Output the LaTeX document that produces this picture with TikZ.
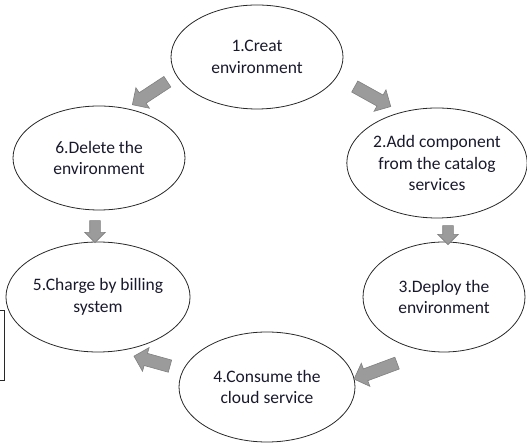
\documentclass[tikz,border=0pt]{standalone}
\usepackage{fontspec}
\setmainfont{Carlito}
\usepackage{xcolor}
\usetikzlibrary{shapes.geometric,shapes.arrows,calc}

\definecolor{textnavy}{RGB}{25,25,45}
\definecolor{arrowgray}{RGB}{155,155,155}
\definecolor{arrowedge}{RGB}{128,128,128}
\definecolor{lineblack}{RGB}{40,40,40}

\newcommand{\blockarrow}[3][]{%
  \path let \p1=($(#3)-(#2)$), \n1={atan2(\y1,\x1)}, \n2={veclen(\x1,\y1)} in
    node[flow arrow, #1, rotate=\n1, minimum height=\n2] at ($(#2)!0.5!(#3)$) {};}

\begin{document}
\begin{tikzpicture}[x=1bp, y=1bp,
                main node/.style={ellipse, draw=lineblack, line width=0.8bp, align=center,
                  inner sep=0pt, text=textnavy, font=\fontsize{17.5bp}{21.5bp}\selectfont},
                flow arrow/.style={single arrow, draw=arrowedge, fill=arrowgray, line width=0.6bp,
                  inner xsep=0pt, inner ysep=6bp, single arrow head extend=6bp},
                small arrow/.style={inner ysep=5bp, single arrow head extend=5bp}]
      \useasboundingbox (0,0) rectangle (527,445);

      \node[main node, minimum width=172bp, minimum height=104bp] (S1) at (257,388) {1.Creat\\environment};
      \node[main node, minimum width=166bp, minimum height=110bp] (S2) at (437,282) {2.Add component\\from the catalog\\services};
      \node[main node, minimum width=162bp, minimum height=110bp] (S3) at (444,148) {3.Deploy the\\environment};
      \node[main node, minimum width=176bp, minimum height=110bp] (S4) at (267,58) {4.Consume the\\cloud service};
      \node[main node, minimum width=170bp, minimum height=110bp] (S5) at (98,148) {5.Charge by billing\\system};
      \node[main node, minimum width=172bp, minimum height=104bp] (S6) at (99,287) {6.Delete the\\environment};

      \coordinate (A1s) at (170,365);
      \coordinate (A1e) at (135,342);
      \coordinate (A2s) at (352,360);
      \coordinate (A2e) at (388,340);
      \coordinate (A3s) at (448,222);
      \coordinate (A3e) at (448,203);
      \coordinate (A4s) at (400,83);
      \coordinate (A4e) at (357,67);
      \coordinate (A5s) at (173,78);
      \coordinate (A5e) at (137,88);
      \coordinate (A6s) at (95,227);
      \coordinate (A6e) at (95,205);

      \blockarrow{A1s}{A1e}
      \blockarrow{A2s}{A2e}
      \blockarrow[small arrow]{A3s}{A3e}
      \blockarrow{A4s}{A4e}
      \blockarrow{A5s}{A5e}
      \blockarrow[small arrow]{A6s}{A6e}

      \draw[draw=lineblack, line width=0.8bp] (-10,135) rectangle (4,65);
\end{tikzpicture}
\end{document}
